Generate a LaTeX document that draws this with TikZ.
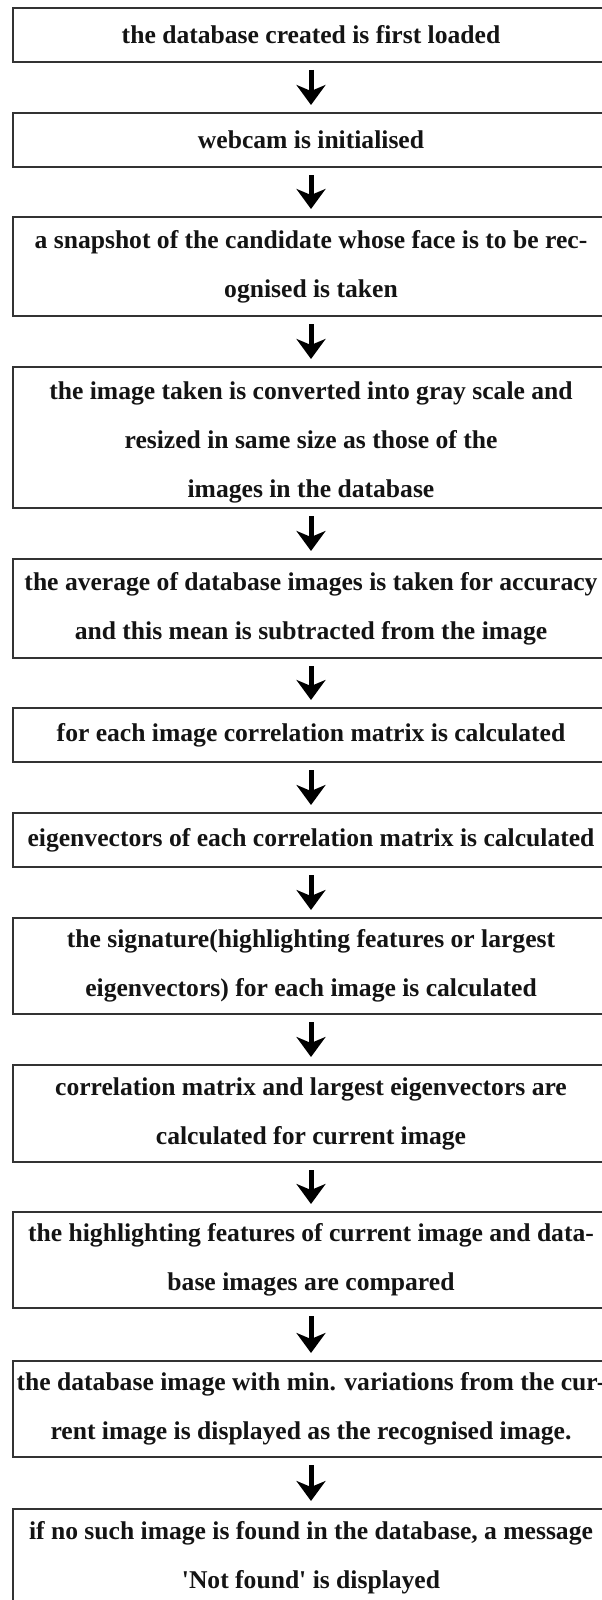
\documentclass[tikz,border=0pt]{standalone}
\usepackage{fontspec}
\setmainfont{Liberation Serif}[Ligatures=TeXOff]
\usetikzlibrary{arrows.meta}
\tikzset{
  stepbox/.style={draw=black!80, line width=2pt, fill=white, inner sep=0pt,
    minimum width=596pt, align=center, text=black!92,
    font=\fontsize{25.6}{49}\selectfont\bfseries},
  flow/.style={line width=5pt, black, shorten <=7pt, shorten >=7pt,
    -{Stealth[length=20pt, width=29pt, inset=6pt]}}
}
\begin{document}
\begin{tikzpicture}[x=1pt, y=-1pt]
\useasboundingbox (0,0) rectangle (602,1600);
\fill[white] (0,0) rectangle (602,1600);

\node[stepbox, minimum height=54pt] (s1) at (311,35) {the database created is first loaded};
\node[stepbox, minimum height=54pt] (s2) at (311,140) {webcam is initialised};
\node[stepbox, minimum height=99pt] (s3) at (311,266.5) {a snapshot of the candidate whose face is to be rec-\\ognised is taken};
\node[stepbox, minimum height=141pt] (s4) at (311,437.5) {\rule{0pt}{28pt}the image taken is converted into gray scale and\\resized in same size as those of the\\images in the database};
\node[stepbox, minimum height=99pt] (s5) at (311,608.5) {the average of database images is taken for accuracy\\and this mean is subtracted from the image};
\node[stepbox, minimum height=54pt] (s6) at (311,735) {for each image correlation matrix is calculated};
\node[stepbox, minimum height=54pt] (s7) at (311,840) {eigenvectors of each correlation matrix is calculated};
\node[stepbox, minimum height=96pt] (s8) at (311,966) {the signature(highlighting features or largest\\eigenvectors) for each image is calculated};
\node[stepbox, minimum height=97pt] (s9) at (311,1113.5) {correlation matrix and largest eigenvectors are\\calculated for current image};
\node[stepbox, minimum height=96pt] (s10) at (311,1260) {the highlighting features of current image and data-\\base images are compared};
\node[stepbox, minimum height=96pt] (s11) at (311,1409) {the database image with min. variations from the cur-\\rent image is displayed as the recognised image.};
\node[stepbox, minimum height=98pt] (s12) at (311,1558) {if no such image is found in the database, a message\\\textquotesingle Not found\textquotesingle{} is displayed};

\foreach \a/\b in {s1/s2,s2/s3,s3/s4,s4/s5,s5/s6,s6/s7,s7/s8,s8/s9,s9/s10,s10/s11,s11/s12}
  \draw[flow] (\a) -- (\b);
\end{tikzpicture}
\end{document}
